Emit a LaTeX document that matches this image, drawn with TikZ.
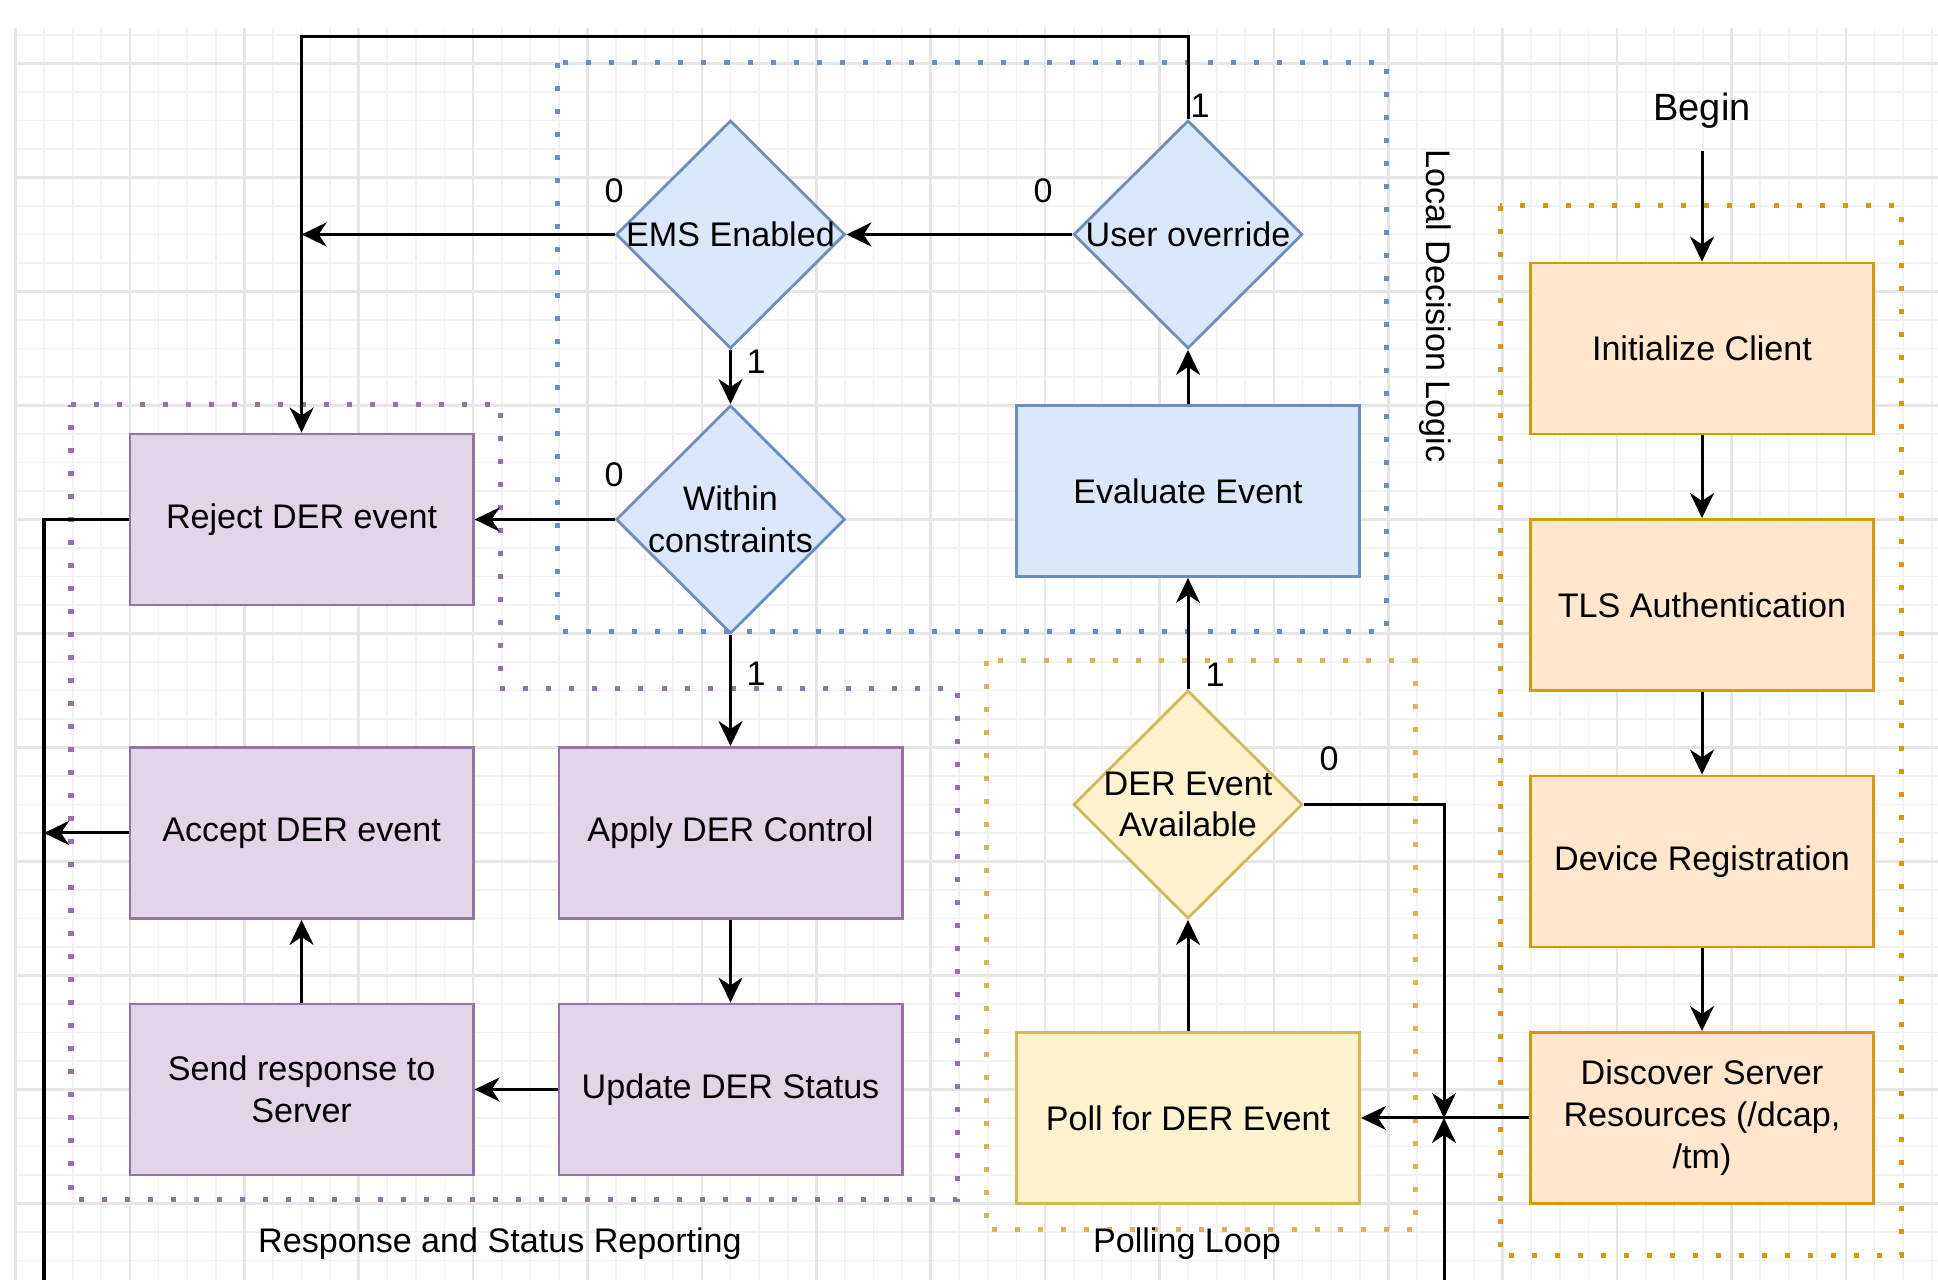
\documentclass[tikz,border=0pt]{standalone}
\usepackage{fontspec}
\setmainfont{Liberation Sans}
\usetikzlibrary{shapes.geometric,arrows.meta}
\definecolor{bfill}{HTML}{DAE8FC}
\definecolor{bstroke}{HTML}{6C8EBF}
\definecolor{pfill}{HTML}{E1D5E7}
\definecolor{pstroke}{HTML}{9673A6}
\definecolor{yfill}{HTML}{FFF2CC}
\definecolor{ystroke}{HTML}{D6B656}
\definecolor{ofill}{HTML}{FFE6CC}
\definecolor{ostroke}{HTML}{D79B00}
\definecolor{gridminor}{HTML}{F3F3F3}
\definecolor{gridmajor}{HTML}{E6E6E6}
\newcommand\mainfs{\fontsize{9.7pt}{11.9pt}\selectfont}
\newcommand\beginfs{\fontsize{10.8pt}{13pt}\selectfont}
\tikzset{
  box/.style={rectangle, draw, line width=0.28mm, minimum width=34.3mm, minimum height=17.1mm, inner sep=0pt, align=center, font=\mainfs},
  bluebox/.style={box, draw=bstroke, fill=bfill},
  purplebox/.style={box, draw=pstroke, fill=pfill},
  yellowbox/.style={box, draw=ystroke, fill=yfill},
  orangebox/.style={box, draw=ostroke, fill=ofill},
  dia/.style={diamond, draw, line width=0.28mm, minimum width=22.9mm, minimum height=22.8mm, inner sep=0pt},
  bluedia/.style={dia, draw=bstroke, fill=bfill},
  yellowdia/.style={dia, draw=ystroke, fill=yfill},
  txt/.style={align=center, font=\mainfs, inner sep=0pt},
  conn/.style={line width=0.3mm, -{Stealth[length=2.5mm,width=2.4mm,inset=0.8mm]}},
  plain/.style={line width=0.3mm},
  cont/.style={line width=0.5mm, dash pattern=on 0.5mm off 1.8mm},
  gminor/.style={draw=gridminor, line width=0.17mm},
  gmajor/.style={draw=gridmajor, line width=0.25mm}
}
\begin{document}
\begin{tikzpicture}[x=0.01cm,y=-0.01cm]
\useasboundingbox (0,0) rectangle (1938,1280);
\fill[white] (0,0) rectangle (1938,1280);
% grid
\foreach \k in {0,...,67} { \draw[gminor] ({15.5+28.6*\k},28) -- ({15.5+28.6*\k},1280); }
\foreach \k in {-1,...,42} { \draw[gminor] (16,{63.5+28.5*\k}) -- (1938,{63.5+28.5*\k}); }
\foreach \k in {0,4,...,64} { \draw[gmajor] ({15.5+28.6*\k},28) -- ({15.5+28.6*\k},1280); }
\foreach \k in {0,4,...,40} { \draw[gmajor] (16,{63.5+28.5*\k}) -- (1938,{63.5+28.5*\k}); }
% containers
\draw[cont, draw=bstroke] (557,63) rectangle (1386,632);
\draw[cont, draw=pstroke] (71,405) -- (500,405) -- (500,689) -- (957,689) -- (957,1200) -- (71,1200) -- cycle;
\draw[cont, draw=ystroke] (986,661) rectangle (1415,1230);
\draw[cont, draw=ostroke] (1500,206) rectangle (1901,1256);
% boxes
\node[purplebox] (reject) at (301.6,519.5) {Reject DER event};
\node[purplebox] (accept) at (301.6,833) {Accept DER event};
\node[purplebox] (send) at (301.6,1089.5) {Send response to\\Server};
\node[purplebox] (apply) at (730.5,833) {Apply DER Control};
\node[purplebox] (update) at (730.5,1089.5) {Update DER Status};
\node[bluebox] (eval) at (1188,491) {Evaluate Event};
\node[yellowbox] (poll) at (1188,1118) {Poll for DER Event};
\node[orangebox] (init) at (1702,348.5) {Initialize Client};
\node[orangebox] (tls) at (1702,605) {TLS Authentication};
\node[orangebox] (devreg) at (1702,861.5) {Device Registration};
\node[orangebox] (disc) at (1702,1118) {Discover Server\\Resources (/dcap,\\/tm)};
% diamonds
\node[bluedia] (ems) at (730.5,234.5) {};
\node[txt] (emst) at (ems.center) {EMS Enabled};
\node[bluedia] (uo) at (1188,234.5) {};
\node[txt] (uot) at (uo.center) {User override};
\node[bluedia] (within) at (730.5,519.5) {};
\node[txt] (withint) at (within.center) {Within\\constraints};
\node[yellowdia] (der) at (1188,804.5) {};
\node[txt] (dert) at (der.center) {DER Event\\Available};
% container labels
\node[txt, rotate=-90] (ldl) at (1435,306) {Local Decision Logic};
\node[txt, anchor=base] (rsr) at (500,1253) {Response and Status Reporting};
\node[txt, anchor=base] (pl) at (1187,1253) {Polling Loop};
\node[font=\beginfs, anchor=base, inner sep=2.2mm, outer sep=0pt] (begin) at (1702,121) {Begin};
% branch labels
\node[txt] (emsno) at (614,191) {0};
\node[txt] (emsyes) at (756,362) {1};
\node[txt] (uono) at (1043,191) {0};
\node[txt] (uoyes) at (1200,106) {1};
\node[txt] (withinno) at (614,475) {0};
\node[txt] (withinyes) at (756,674) {1};
\node[txt] (deryes) at (1215,675) {1};
\node[txt] (derno) at (1329,759) {0};
% helper coordinates
\coordinate (toprow) at (0,37);
\coordinate (leftline) at (44,0);
\coordinate (rightline) at (1444,0);
\coordinate (pagebottom) at (0,1280);
% connectors
\draw[conn] (begin.south) -- (init.north);
\draw[conn] (init.south) -- (tls.north);
\draw[conn] (tls.south) -- (devreg.north);
\draw[conn] (devreg.south) -- (disc.north);
\draw[conn] (disc.west) -- (poll.east);
\draw[conn] (poll.north) -- (der.south);
\draw[conn] (der.north) -- (eval.south);
\draw[conn] (eval.north) -- (uo.south);
\draw[conn] (uo.west) -- (ems.east);
\draw[conn] (uo.north) -- (uo.north |- toprow) -| (reject.north);
\draw[conn] (ems.west) -- (ems.west -| reject.north);
\draw[conn] (ems.south) -- (within.north);
\draw[conn] (within.west) -- (reject.east);
\draw[conn] (within.south) -- (apply.north);
\draw[conn] (apply.south) -- (update.north);
\draw[conn] (update.west) -- (send.east);
\draw[conn] (send.north) -- (accept.south);
\draw[conn] (accept.west) -- (accept.west -| leftline);
\draw[plain] (reject.west) -- (reject.west -| leftline) -- (leftline |- pagebottom);
\draw[conn] (der.east) -- (der.east -| rightline) -- (rightline |- poll.east);
\draw[conn] (rightline |- pagebottom) -- (rightline |- poll.east);
\end{tikzpicture}
\end{document}
